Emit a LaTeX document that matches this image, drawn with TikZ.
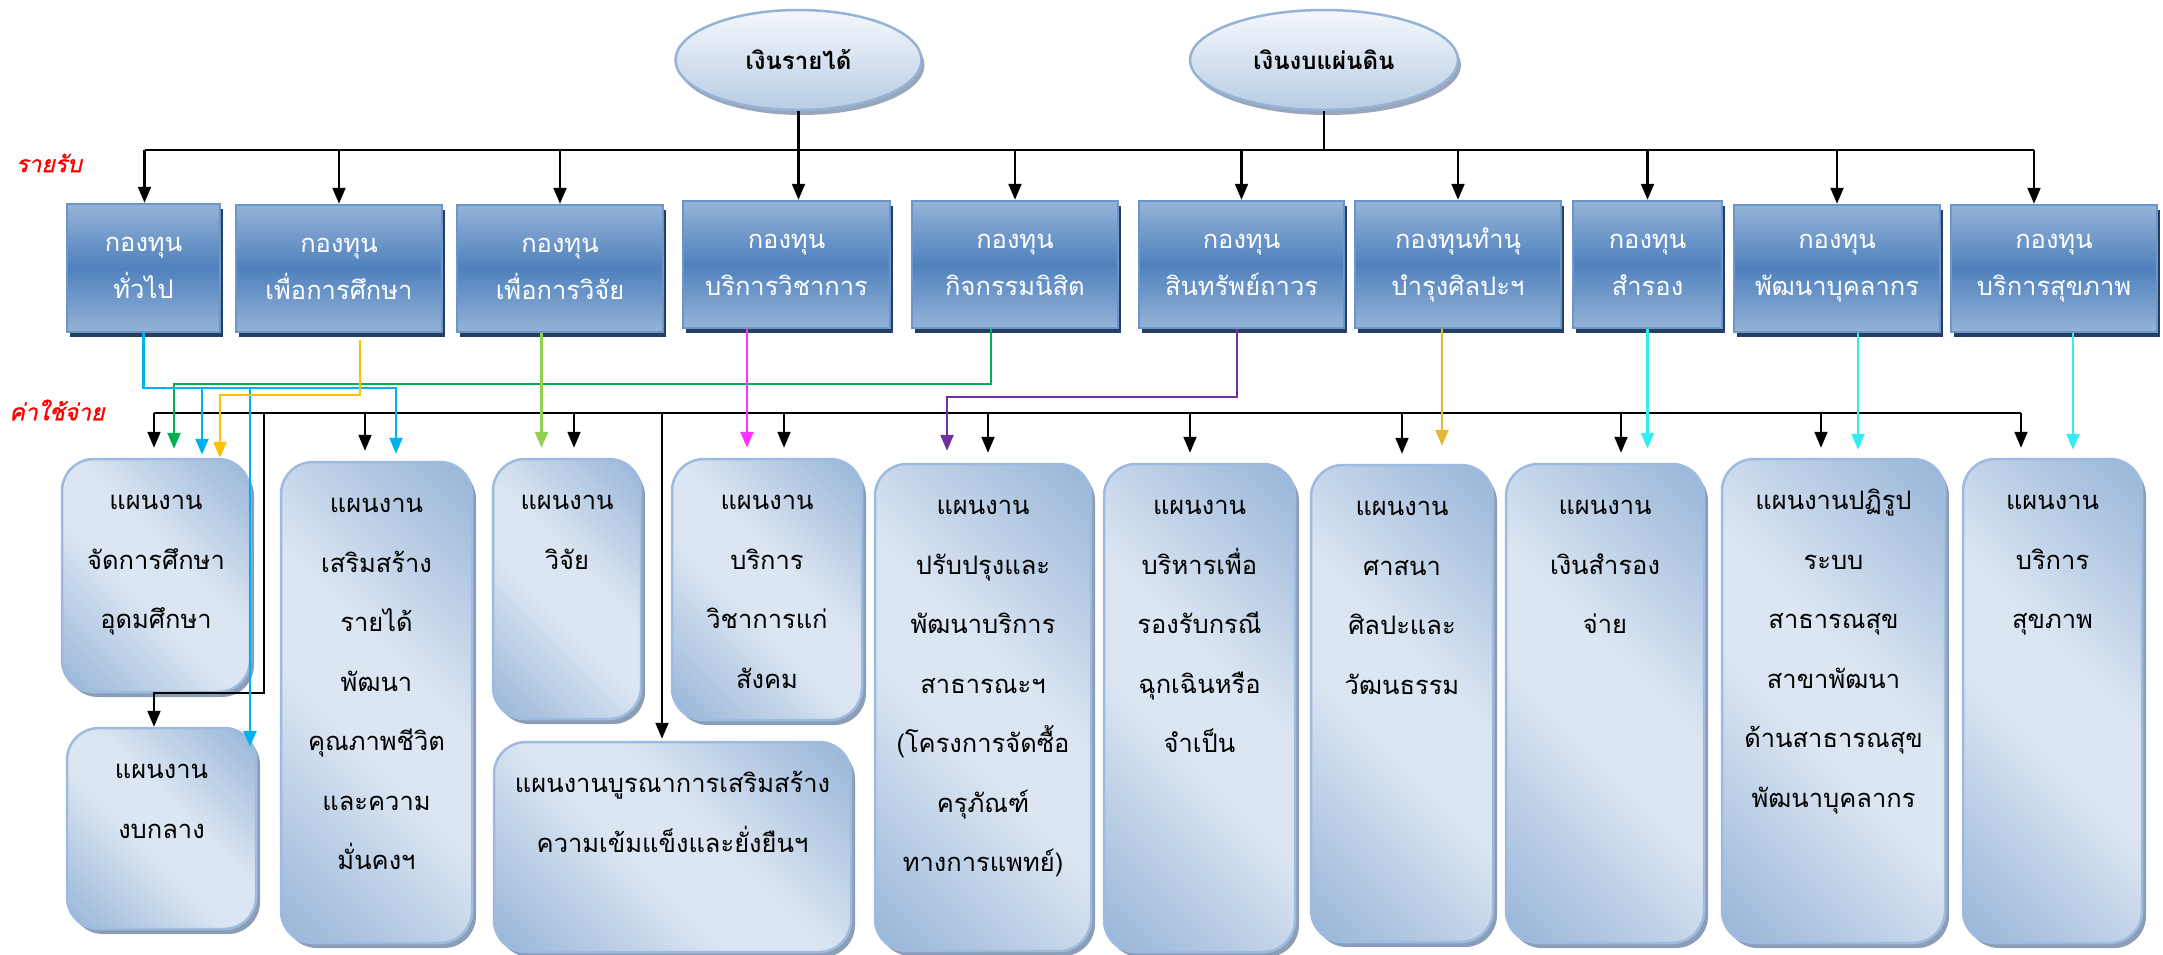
\documentclass[tikz,border=0pt]{standalone}
\usepackage{fontspec}
\newfontfamily\thai[Script=Thai]{Loma}
\newfontfamily\thaiemph[Script=Thai,FakeSlant=0.22,FakeBold=1.2]{Loma}
\usetikzlibrary{arrows.meta,shadows,shapes.geometric}

% palette
\definecolor{fundDark}{HTML}{4F81BD}
\definecolor{fundLight}{HTML}{95B3D7}
\definecolor{fundEdge}{HTML}{6C95CA}
\definecolor{fundShadow}{HTML}{243F60}
\definecolor{planLight}{HTML}{DCE6F2}
\definecolor{planDark}{HTML}{95B3D7}
\definecolor{planEdge}{HTML}{9DBAE0}
\definecolor{planShadow}{HTML}{8C9DB6}
\definecolor{srcTop}{HTML}{F5F8FC}
\definecolor{srcBottom}{HTML}{B8CCE4}
\definecolor{srcEdge}{HTML}{95B3D7}
\definecolor{srcShadow}{HTML}{9AA6BA}
\definecolor{cBlue}{HTML}{00B0F0}
\definecolor{cOrange}{HTML}{FFC000}
\definecolor{cLime}{HTML}{92D050}
\definecolor{cMagenta}{HTML}{FF33FF}
\definecolor{cGreen}{HTML}{00B050}
\definecolor{cPurple}{HTML}{7030A0}
\definecolor{cGold}{HTML}{E5B735}
\definecolor{cCyan}{HTML}{33EEEE}

% diagonal light band for the plan boxes
\pgfdeclarehorizontalshading{planshade}{100bp}{%
  color(0bp)=(planDark); color(14bp)=(planDark); color(44bp)=(planLight);
  color(56bp)=(planLight); color(86bp)=(planDark); color(100bp)=(planDark)}

\newcommand{\firstline}{\rule{0pt}{31pt}}

\tikzset{
  source/.style={ellipse, draw=srcEdge, line width=2.5pt,
    top color=srcTop, bottom color=srcBottom,
    drop shadow={shadow xshift=3pt, shadow yshift=-5pt, fill=srcShadow, opacity=1},
    font=\thai\bfseries\fontsize{24}{28}\selectfont, inner sep=0pt},
  fund/.style={rectangle, draw=fundEdge, line width=2.5pt,
    top color=fundLight, bottom color=fundLight, middle color=fundDark,
    drop shadow={shadow xshift=3pt, shadow yshift=-5pt, fill=fundShadow, opacity=1},
    text=white, align=center, inner sep=0pt,
    font=\thai\fontsize{25.5}{47}\selectfont},
  plan/.style={rectangle, rounded corners=32pt, draw=planEdge, line width=2.5pt,
    shading=planshade, shading angle=45,
    drop shadow={shadow xshift=4pt, shadow yshift=-5pt, fill=planShadow, opacity=1},
    inner sep=0pt},
  plantext/.style={anchor=north, align=center, inner sep=0pt,
    font=\thai\fontsize{25.5}{59.5}\selectfont},
  redlabel/.style={text=red, inner sep=0pt, font=\thaiemph\fontsize{23}{28}\selectfont},
  tip/.style={-{Triangle[length=16pt,width=13pt]}},
  trunk/.style={line width=2.2pt, black},
  feed/.style={trunk, tip},
  bus/.style={line width=2pt, black},
  drop/.style={bus, tip, shorten >=10pt},
  cflow/.style={line width=2.5pt, draw=#1},
  cdrop/.style={line width=2.5pt, draw=#1, tip, shorten >=10pt},
}

\begin{document}
\begin{tikzpicture}[x=1pt, y=-1pt]
\useasboundingbox (0,0) rectangle (2163,954);
\fill[white] (0,0) rectangle (2163,954);

% ---------- sources of money ----------
\node[source, minimum width=246pt, minimum height=100pt] (inc) at (798.5,60) {เงินรายได้};
\node[source, minimum width=268pt, minimum height=100pt] (bud) at (1324,60) {เงินงบแผ่นดิน};

% ---------- funds ----------
\node[fund, minimum width=153pt, minimum height=128pt] (T1) at (143.5,268) {กองทุน\\ทั่วไป};
\node[fund, minimum width=206pt, minimum height=127pt] (T2) at (339,268.5) {กองทุน\\เพื่อการศึกษา};
\node[fund, minimum width=206pt, minimum height=127pt] (T3) at (560,268.5) {กองทุน\\เพื่อการวิจัย};
\node[fund, minimum width=207pt, minimum height=127pt] (T4) at (786.5,264.5) {กองทุน\\บริการวิชาการ};
\node[fund, minimum width=206pt, minimum height=127pt] (T5) at (1015,264.5) {กองทุน\\กิจกรรมนิสิต};
\node[fund, minimum width=205pt, minimum height=127pt] (T6) at (1241.5,264.5) {กองทุน\\สินทรัพย์ถาวร};
\node[fund, minimum width=206pt, minimum height=127pt] (T7) at (1458,264.5) {กองทุนทำนุ\\บำรุงศิลปะฯ};
\node[fund, minimum width=149pt, minimum height=127pt] (T8) at (1647.5,264.5) {กองทุน\\สำรอง};
\node[fund, minimum width=206pt, minimum height=127pt] (T9) at (1837,268.5) {กองทุน\\พัฒนาบุคลากร};
\node[fund, minimum width=206pt, minimum height=127pt] (T10) at (2054,268.5) {กองทุน\\บริการสุขภาพ};

% ---------- plans ----------
\node[plan, minimum width=188pt, minimum height=233pt] (A) at (156,575.5) {};
\node[plan, minimum width=189pt, minimum height=201pt] (B) at (161.5,828.5) {};
\node[plan, minimum width=191pt, minimum height=481pt] (C) at (376.5,702.5) {};
\node[plan, minimum width=148pt, minimum height=260pt] (D) at (567,589) {};
\node[plan, minimum width=357pt, minimum height=210pt] (E) at (672.5,847) {};
\node[plan, minimum width=190pt, minimum height=261pt] (F) at (767,589.5) {};
\node[plan, minimum width=216pt, minimum height=487pt] (G) at (983,707.5) {};
\node[plan, minimum width=191pt, minimum height=488pt] (H) at (1199.5,708) {};
\node[plan, minimum width=182pt, minimum height=477pt] (I) at (1402,703.5) {};
\node[plan, minimum width=198pt, minimum height=479pt] (J) at (1605,703.5) {};
\node[plan, minimum width=223pt, minimum height=484pt] (K) at (1833.5,701) {};
\node[plan, minimum width=179pt, minimum height=484pt] (L) at (2052.5,701) {};

\node[plantext] (At) at ([yshift=-21pt]A.north) {\firstline แผนงาน\\จัดการศึกษา\\อุดมศึกษา};
\node[plantext] (Bt) at ([yshift=-21pt]B.north) {\firstline แผนงาน\\งบกลาง};
\node[plantext] (Ct) at ([yshift=-21pt]C.north) {\firstline แผนงาน\\เสริมสร้าง\\รายได้\\พัฒนา\\คุณภาพชีวิต\\และความ\\มั่นคงฯ};
\node[plantext] (Dt) at ([yshift=-21pt]D.north) {\firstline แผนงาน\\วิจัย};
\node[plantext] (Et) at ([yshift=-21pt]E.north) {\firstline แผนงานบูรณาการเสริมสร้าง\\ความเข้มแข็งและยั่งยืนฯ};
\node[plantext] (Ft) at ([yshift=-21pt]F.north) {\firstline แผนงาน\\บริการ\\วิชาการแก่\\สังคม};
\node[plantext] (Gt) at ([yshift=-21pt]G.north) {\firstline แผนงาน\\ปรับปรุงและ\\พัฒนาบริการ\\สาธารณะฯ\\(โครงการจัดซื้อ\\ครุภัณฑ์\\ทางการแพทย์)};
\node[plantext] (Ht) at ([yshift=-21pt]H.north) {\firstline แผนงาน\\บริหารเพื่อ\\รองรับกรณี\\ฉุกเฉินหรือ\\จำเป็น};
\node[plantext] (It) at ([yshift=-21pt]I.north) {\firstline แผนงาน\\ศาสนา\\ศิลปะและ\\วัฒนธรรม};
\node[plantext] (Jt) at ([yshift=-21pt]J.north) {\firstline แผนงาน\\เงินสำรอง\\จ่าย};
\node[plantext] (Kt) at ([yshift=-21pt]K.north) {\firstline แผนงานปฏิรูป\\ระบบ\\สาธารณสุข\\สาขาพัฒนา\\ด้านสาธารณสุข\\พัฒนาบุคลากร};
\node[plantext] (Lt) at ([yshift=-21pt]L.north) {\firstline แผนงาน\\บริการ\\สุขภาพ};

% ---------- side labels ----------
\node[redlabel] (incomeLabel) at (49,163) {รายรับ};
\node[redlabel] (costLabel) at (57,410) {ค่าใช้จ่าย};

% ---------- income bus ----------
\coordinate (busIL) at (144.5,150);
\coordinate (busIR) at (2034,150);
\draw[trunk] (busIL) -- (busIR);
\draw[feed] (inc.south) -- (inc.south |- T4.north);
\draw[trunk] (bud.south) -- (bud.south |- busIL);
\draw[feed] (busIL) -- (busIL |- T1.north);
\draw[feed] (T2.north |- busIL) -- (T2.north);
\draw[feed] (T3.north |- busIL) -- (T3.north);
\draw[feed] (T5.north |- busIL) -- (T5.north);
\draw[feed] (T6.north |- busIL) -- (T6.north);
\draw[feed] (T7.north |- busIL) -- (T7.north);
\draw[feed] (T8.north |- busIL) -- (T8.north);
\draw[feed] (T9.north |- busIL) -- (T9.north);
\draw[feed] (busIR) -- (busIR |- T10.north);

% ---------- expense bus ----------
\coordinate (busEL) at (154,413);
\coordinate (busER) at (2021,413);
\coordinate (jB) at (264,413);
\coordinate (jE) at (662,413);
\draw[bus] (busEL) -- (busER);
\draw[drop] (busEL) -- (busEL |- A.north);
\draw[bus, tip] (jB) |- ([xshift=-7.5pt]B.north |- A.south) -- ([xshift=-7.5pt]B.north);
\draw[drop] ([xshift=-11.5pt]C.north |- busEL) -- ([xshift=-11.5pt]C.north);
\draw[drop] ([xshift=7pt]D.north |- busEL) -- ([xshift=7pt]D.north);
\draw[bus, tip, shorten >=2pt] (jE) -- (jE |- E.north);
\draw[drop] ([xshift=17pt]F.north |- busEL) -- ([xshift=17pt]F.north);
\draw[drop] ([xshift=5pt]G.north |- busEL) -- ([xshift=5pt]G.north);
\draw[drop] ([xshift=-9.5pt]H.north |- busEL) -- ([xshift=-9.5pt]H.north);
\draw[drop] (I.north |- busEL) -- (I.north);
\draw[drop] ([xshift=16pt]J.north |- busEL) -- ([xshift=16pt]J.north);
\draw[drop] ([xshift=-12.5pt]K.north |- busEL) -- ([xshift=-12.5pt]K.north);
\draw[drop] (busER) -- (busER |- L.north);

% ---------- fund to plan flows ----------
\coordinate (greenBus) at (0,384);
\coordinate (blueBus) at (0,388);
\coordinate (orangeBus) at (0,395);
\coordinate (purpleBus) at (0,397);

\draw[cflow=cGreen, tip, shorten >=9pt] ([xshift=-24pt]T5.south) |- ([xshift=18pt]A.north |- greenBus) -- ([xshift=18pt]A.north);
\draw[cflow=cBlue, tip, shorten >=7pt] (T1.south) |- ([xshift=19.5pt]C.north |- blueBus) -- ([xshift=19.5pt]C.north);
\draw[cflow=cBlue, tip, shorten >=3pt] ([xshift=46pt]A.north |- blueBus) -- ([xshift=46pt]A.north);
\draw[cflow=cBlue, tip] ([xshift=94pt]A.north |- blueBus) -- ([xshift=88.5pt,yshift=-20pt]B.north);
\draw[cflow=cOrange, tip, shorten >=0pt] ([xshift=21pt,yshift=-7pt]T2.south) |- ([xshift=64pt]A.north |- orangeBus) -- ([xshift=64pt]A.north);
\draw[cdrop=cLime] ([xshift=-18.5pt]T3.south) -- ([xshift=-18.5pt]T3.south |- D.north);
\draw[cdrop=cMagenta] ([xshift=-39.5pt]T4.south) -- ([xshift=-39.5pt]T4.south |- F.north);
\draw[cflow=cPurple, tip, shorten >=12pt] ([xshift=-4.5pt]T6.south) |- ([xshift=-36pt]G.north |- purpleBus) -- ([xshift=-36pt]G.north);
\draw[cdrop=cGold, shorten >=18pt] ([xshift=-16pt]T7.south) -- ([xshift=-16pt]T7.south |- I.north);
\draw[cdrop=cCyan, shorten >=14pt] (T8.south) -- (T8.south |- J.north);
\draw[cdrop=cCyan, shorten >=8pt] ([xshift=21pt]T9.south) -- ([xshift=21pt]T9.south |- K.north);
\draw[cdrop=cCyan, shorten >=8pt] ([xshift=19pt]T10.south) -- ([xshift=19pt]T10.south |- L.north);
\end{tikzpicture}
\end{document}
